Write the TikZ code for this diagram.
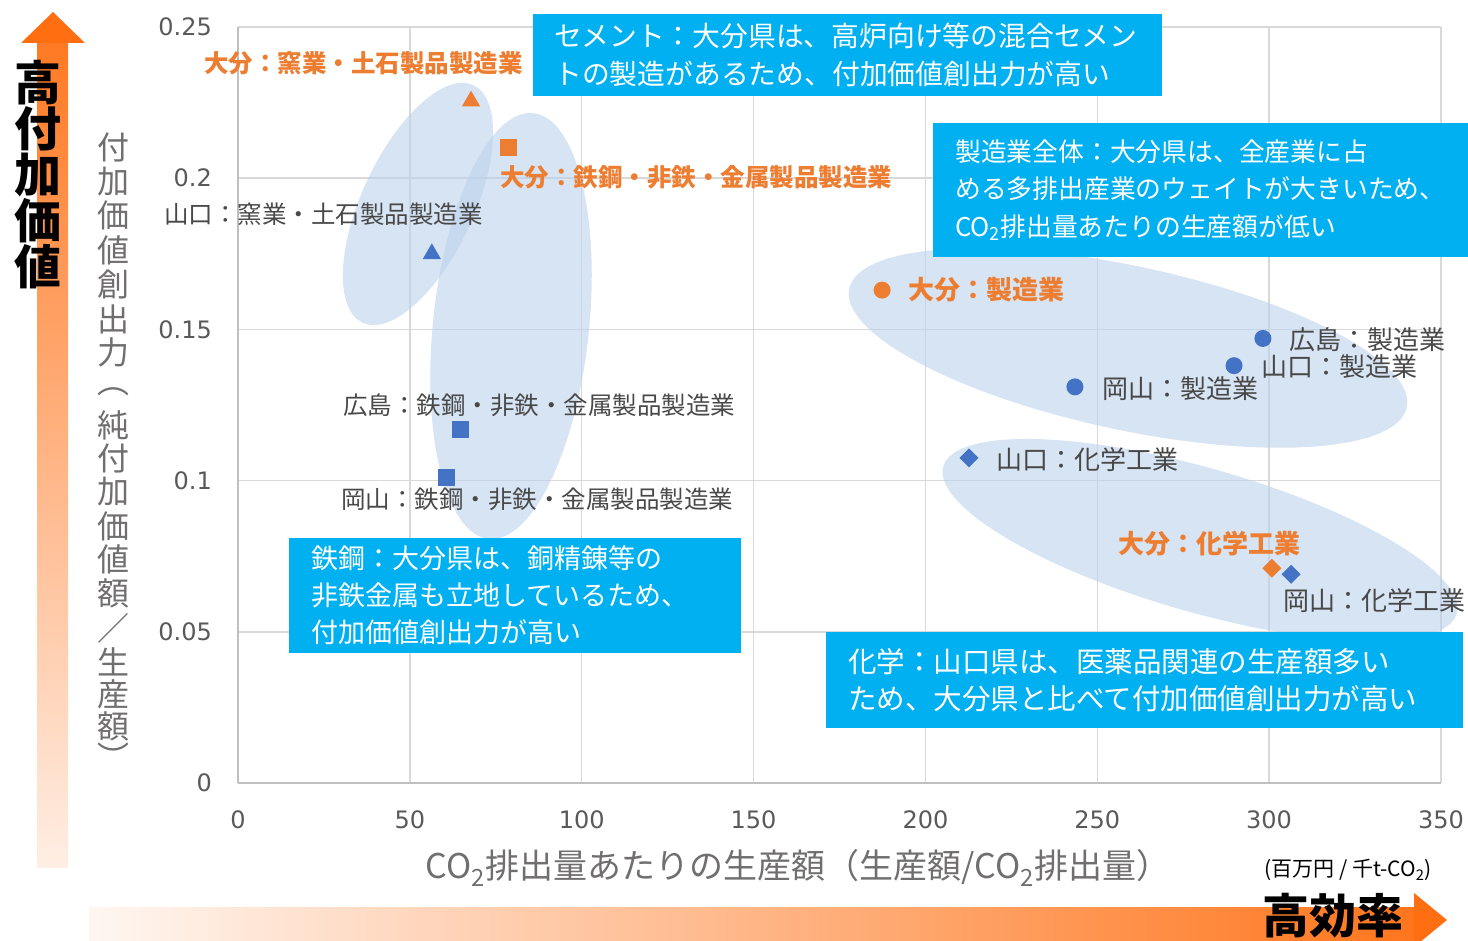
\documentclass[tikz,border=0pt]{standalone}
\usepackage{fontspec}
\setmainfont{DejaVu Sans}
\newfontfamily\jp{Noto Sans CJK JP}
\usetikzlibrary{shapes.geometric}
\definecolor{gridgray}{RGB}{217,217,217}
\definecolor{axisgray}{RGB}{191,191,191}
\definecolor{tickgray}{RGB}{89,89,89}
\definecolor{titlegray}{RGB}{112,110,110}
\definecolor{labelgray}{RGB}{72,72,72}
\definecolor{oitaorange}{RGB}{237,125,49}
\definecolor{prefblue}{RGB}{68,114,196}
\definecolor{clusterblue}{RGB}{187,210,235}
\definecolor{notecyan}{RGB}{0,176,240}
\definecolor{arroworange}{RGB}{255,110,16}
\definecolor{arrowpale}{RGB}{255,238,228}

\begin{document}
\begin{tikzpicture}[x=1pt, y=-1pt,
    gridline/.style={draw=gridgray, line width=1.5pt},
    axisline/.style={draw=axisgray, line width=2pt},
    ticklabel/.style={font=\fontsize{24}{24}\selectfont, text=tickgray, inner sep=0pt},
    cluster/.style={fill=clusterblue, fill opacity=0.6},
    mk/.style={inner sep=0pt, outer sep=0pt},
    mktri/.style={mk, regular polygon, regular polygon sides=3, minimum size=21pt},
    mksq/.style={mk, rectangle, minimum size=17pt},
    mkcirc/.style={mk, circle, minimum size=17pt},
    mkdia/.style={mk, diamond, minimum size=19pt},
    lblgray/.style={font=\jp\fontsize{#1}{#1}\selectfont, text=labelgray, inner sep=0pt},
    lblgray/.default=24.5,
    lblorange/.style={font=\jp\bfseries\fontsize{#1}{#1}\selectfont, text=oitaorange, inner sep=0pt},
    lblorange/.default=24.5,
    notebox/.style={anchor=north west, fill=notecyan, text=white, align=left, inner xsep=21pt, inner ysep=0pt},
    bigword/.style={font=\jp\bfseries\fontsize{47}{47}\selectfont, text=black, inner sep=0pt},
    ychar/.style={font=\jp\fontsize{32}{32}\selectfont, text=titlegray, inner sep=0pt},
    xtitle/.style={font=\jp\fontsize{34}{34}\selectfont, text=titlegray, inner sep=0pt},
    unitlabel/.style={font=\jp\fontsize{21}{21}\selectfont, text=black, inner sep=0pt}]
\useasboundingbox (0,0) rectangle (1468,941);

\shade[top color=arroworange!92!white, bottom color=arrowpale] (37,42) rectangle (68,867);
\fill[arroworange] (21,43) -- (53,12) -- (85,43) -- cycle;
\foreach \ch [count=\i from 0] in {高,付,加,価,値}
    \node[bigword] (hv\i) at (38,83+46*\i) {\ch};

\shade[left color=arrowpale!50!white, right color=arroworange!95!white] (89,907) rectangle (1415,941);
\fill[arroworange] (1414,893) -- (1447,920) -- (1414,947) -- cycle;
\node[bigword, anchor=base] (eff) at (1333,933) {高効率};

\begin{scope}[shift={(238,783)}, x=3.437pt, y=3024pt]
    \foreach \gx in {50,100,...,350}
        \draw[gridline] (\gx,0) -- (\gx,0.25);
    \foreach \gy in {0.05,0.1,0.15,0.2,0.25}
        \draw[gridline] (0,\gy) -- (350,\gy);
    \draw[axisline] (0,0) -- (0,0.25);
    \draw[axisline] (0,0) -- (350,0);
    \foreach \gx in {0,50,...,350}
        \node[ticklabel] (xtick\gx) at ([yshift=-37pt]\gx,0) {\gx};
    \foreach \gy/\txt [count=\k] in {0/0,0.05/0.05,0.1/0.1,0.15/0.15,0.2/0.2,0.25/0.25}
        \node[ticklabel, anchor=east] (ytick\k) at ([xshift=-26pt]0,\gy) {\txt};
\end{scope}

\fill[cluster, rotate around={65:(418,204)}] (418,204) ellipse [x radius=131, y radius=56];
\fill[cluster, rotate around={84:(511,326)}] (511,326) ellipse [x radius=214, y radius=78];
\fill[cluster, rotate around={-12:(1128,348)}] (1128,348) ellipse [x radius=285, y radius=82];
\fill[cluster, rotate around={-16:(1200,540)}] (1200,540) ellipse [x radius=267, y radius=72];

\begin{scope}[shift={(238,783)}, x=3.437pt, y=3024pt]
    \node[mktri, fill=oitaorange] (oita-ceramic) at (67.8,0.2255) {};
    \node[mksq, fill=oitaorange] (oita-steel) at (78.8,0.210) {};
    \node[mktri, fill=prefblue] (yama-ceramic) at (56.4,0.175) {};
    \node[mksq, fill=prefblue] (hiro-steel) at (64.6,0.117) {};
    \node[mksq, fill=prefblue] (oka-steel) at (60.8,0.101) {};
    \node[mkcirc, fill=oitaorange] (oita-mfg) at (187.4,0.163) {};
    \node[mkcirc, fill=prefblue] (hiro-mfg) at (298.2,0.147) {};
    \node[mkcirc, fill=prefblue] (yama-mfg) at (289.8,0.138) {};
    \node[mkcirc, fill=prefblue] (oka-mfg) at (243.5,0.131) {};
    \node[mkdia, fill=prefblue] (yama-chem) at (212.7,0.1075) {};
    \node[mkdia, fill=oitaorange] (oita-chem) at (300.8,0.071) {};
    \node[mkdia, fill=prefblue] (oka-chem) at (306.4,0.069) {};
\end{scope}

\node[lblorange, right] (lbl-oita-ceramic) at (204,63) {大分：窯業・土石製品製造業};
\node[lblorange, right] (lbl-oita-steel) at (500,177) {大分：鉄鋼・非鉄・金属製品製造業};
\node[lblgray, right] (lbl-yama-ceramic) at (164,214) {山口：窯業・土石製品製造業};
\node[lblgray, right] (lbl-hiro-steel) at (343,405) {広島：鉄鋼・非鉄・金属製品製造業};
\node[lblgray, right] (lbl-oka-steel) at (341,499) {岡山：鉄鋼・非鉄・金属製品製造業};
\node[lblorange=26, right] (lbl-oita-mfg) at (908,290) {大分：製造業};
\node[lblgray=26, right] (lbl-hiro-mfg) at (1289,340) {広島：製造業};
\node[lblgray=26, right] (lbl-yama-mfg) at (1261,367) {山口：製造業};
\node[lblgray=26, right] (lbl-oka-mfg) at (1102,389) {岡山：製造業};
\node[lblgray=26, right] (lbl-yama-chem) at (996,460) {山口：化学工業};
\node[lblorange=26, right] (lbl-oita-chem) at (1118,544) {大分：化学工業};
\node[lblgray=26, right] (lbl-oka-chem) at (1283,601) {岡山：化学工業};

\foreach \ch/\yy [count=\i] in {付/147,加/182,価/215,値/250,創/285,出/319,力/352,︵/392,純/425,付/458,加/492,価/526,値/559,額/593,／/628,生/662,産/694,額/726,︶/756}
    \node[ychar] (ychar\i) at (113,\yy) {\ch};
\node[xtitle] (xtitle) at (798,868) {CO\textsubscript{2}排出量あたりの生産額（生産額/CO\textsubscript{2}排出量）};
\node[unitlabel] (unit) at (1348,870) {(百万円 / 千t-CO\textsubscript{2})};

\node[notebox, minimum width=629pt, minimum height=82pt, text width=587pt,
    font=\jp\fontsize{27.8}{38}\selectfont] (cement) at (533,14)
    {セメント：大分県は、高炉向け等の混合セメン\\トの製造があるため、付加価値創出力が高い};
\node[notebox, inner xsep=22pt, minimum width=535pt, minimum height=134pt, text width=500pt,
    font=\jp\fontsize{25.8}{37.5}\selectfont] (mfgall) at (933,123)
    {製造業全体：大分県は、全産業に占\\める多排出産業のウェイトが大きいため、\\CO\textsubscript{2}排出量あたりの生産額が低い};
\node[notebox, inner xsep=22pt, minimum width=452pt, minimum height=115pt, text width=408pt,
    font=\jp\fontsize{27}{37}\selectfont] (steel) at (289,538)
    {鉄鋼：大分県は、銅精錬等の\\非鉄金属も立地しているため、\\付加価値創出力が高い};
\node[notebox, inner xsep=22pt, minimum width=637pt, minimum height=96pt, text width=593pt,
    font=\jp\fontsize{28.5}{37}\selectfont] (chem) at (826,632)
    {化学：山口県は、医薬品関連の生産額多い\\ため、大分県と比べて付加価値創出力が高い};
\end{tikzpicture}
\end{document}
